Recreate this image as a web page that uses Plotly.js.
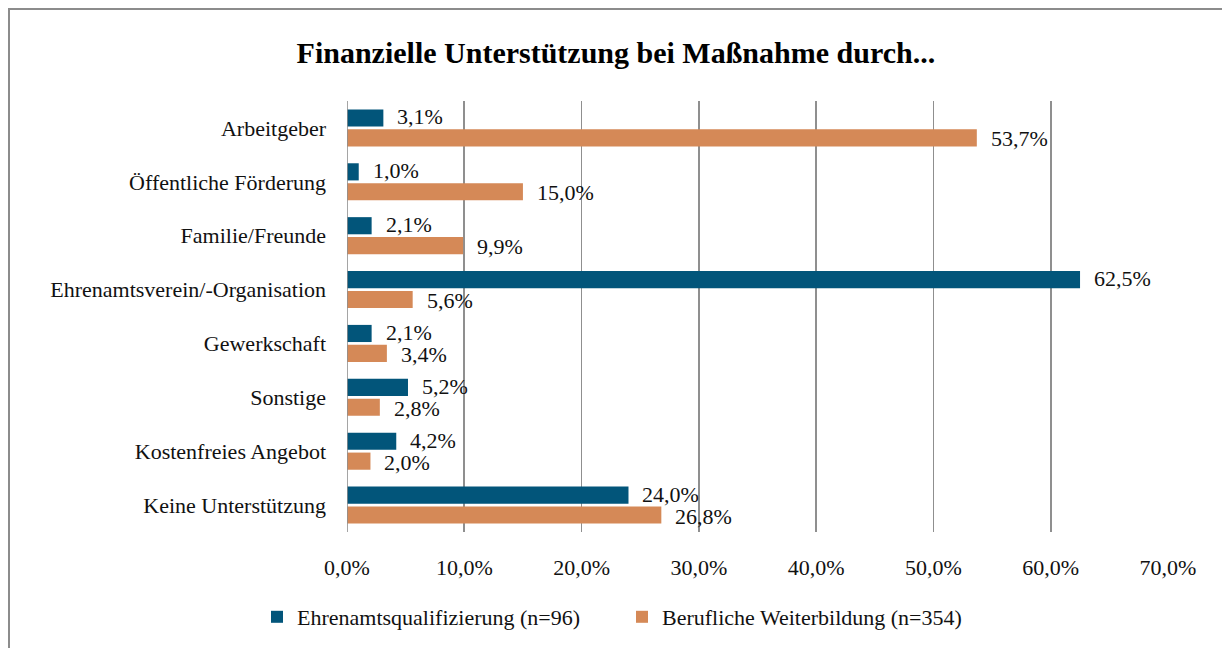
<!DOCTYPE html>
<html>
<head>
<meta charset="utf-8">
<script src="https://cdn.plot.ly/plotly-3.0.1.min.js"></script>
<style>
  html, body { margin: 0; padding: 0; background: #fff; }
  #wrap { position: relative; width: 1222px; height: 648px; overflow: hidden; }
  #chart { position: absolute; left: 0; top: 0; width: 1222px; height: 648px; }
  #frame { position: absolute; left: 8px; top: 8px; width: 1400px; height: 800px;
           border-left: 2px solid #8c8c8c; border-top: 2px solid #8c8c8c; pointer-events: none; }
</style>
</head>
<body>
<div id="wrap">
  <div id="chart"></div>
  <div id="frame"></div>
</div>
<script>
const categories = [
  "Arbeitgeber",
  "Öffentliche Förderung",
  "Familie/Freunde",
  "Ehrenamtsverein/-Organisation",
  "Gewerkschaft",
  "Sonstige",
  "Kostenfreies Angebot",
  "Keine Unterstützung"
];
const seriesNames = ["Ehrenamtsqualifizierung (n=96)", "Berufliche Weiterbildung (n=354)"];
const ehrenamt = [3.1, 1.0, 2.1, 62.5, 2.1, 5.2, 4.2, 24.0];
const beruflich = [53.7, 15.0, 9.9, 5.6, 3.4, 2.8, 2.0, 26.8];
const tickValues = [0, 10, 20, 30, 40, 50, 60, 70];
const titleText = "Finanzielle Unterstützung bei Maßnahme durch...";

const FONT = "'Liberation Serif', 'Times New Roman', serif";
const BLUE = "#02557A";
const ORANGE = "#D58957";
const FS = 22;

function fmt(v) { return v.toFixed(1).replace(".", ",") + "%"; }

const traces = [
  { type: "bar", orientation: "h", name: seriesNames[0], y: categories, x: ehrenamt,
    marker: { color: BLUE, line: { width: 0 } }, hoverinfo: "x+y" },
  { type: "bar", orientation: "h", name: seriesNames[1], y: categories, x: beruflich,
    marker: { color: ORANGE, line: { width: 0 } }, hoverinfo: "x+y" }
];

const annotations = [];
[ehrenamt, beruflich].forEach((arr, si) => {
  arr.forEach((v, i) => {
    annotations.push({
      x: v, y: categories[i], xref: "x", yref: "y",
      text: fmt(v), showarrow: false, xanchor: "left", yanchor: "middle",
      xshift: 12, yshift: si === 0 ? 11 : -11,
      font: { family: FONT, size: FS, color: "#111" }
    });
  });
});

const layout = {
  width: 1222, height: 648,
  paper_bgcolor: "#fff", plot_bgcolor: "#fff",
  margin: { l: 347, r: 54, t: 101, b: 116 },
  font: { family: FONT, size: FS, color: "#111" },
  title: { text: "<b>" + titleText + "</b>", font: { family: FONT, size: 30, color: "#000" },
           x: 0.504, xref: "container", xanchor: "center", y: 1 - 52/648, yref: "container", yanchor: "middle" },
  barmode: "group", bargap: 0.26, bargroupgap: 0.14,
  xaxis: {
    range: [0, 70], tickvals: tickValues, ticktext: tickValues.map(fmt),
    showgrid: true, gridcolor: "#8f8f8f", gridwidth: 1.6, zeroline: false,
    showline: false, ticks: "", ticklabelstandoff: 20,
    tickfont: { family: FONT, size: FS, color: "#111" }, fixedrange: true
  },
  yaxis: {
    autorange: "reversed", showgrid: false, zeroline: false, showline: false, ticks: "",
    ticklabelstandoff: 20, tickfont: { family: FONT, size: FS, color: "#111" }, fixedrange: true
  },
  showlegend: true,
  legend: { orientation: "h", x: 622/1222, xref: "container", xanchor: "center",
            y: 1 - 617/648, yref: "container", yanchor: "middle",
            font: { family: FONT, size: FS, color: "#111" }, itemwidth: 30, traceorder: "normal",
            entrywidth: 320, entrywidthmode: "pixels" },
  annotations: annotations,
  shapes: [{ type: "line", xref: "x", yref: "paper", x0: 0, x1: 0, y0: 0, y1: 1,
             line: { color: "#8f8f8f", width: 1.6 }, layer: "above" }]
};

Plotly.newPlot("chart", traces, layout, { displayModeBar: false, staticPlot: true });
</script>
</body>
</html>
